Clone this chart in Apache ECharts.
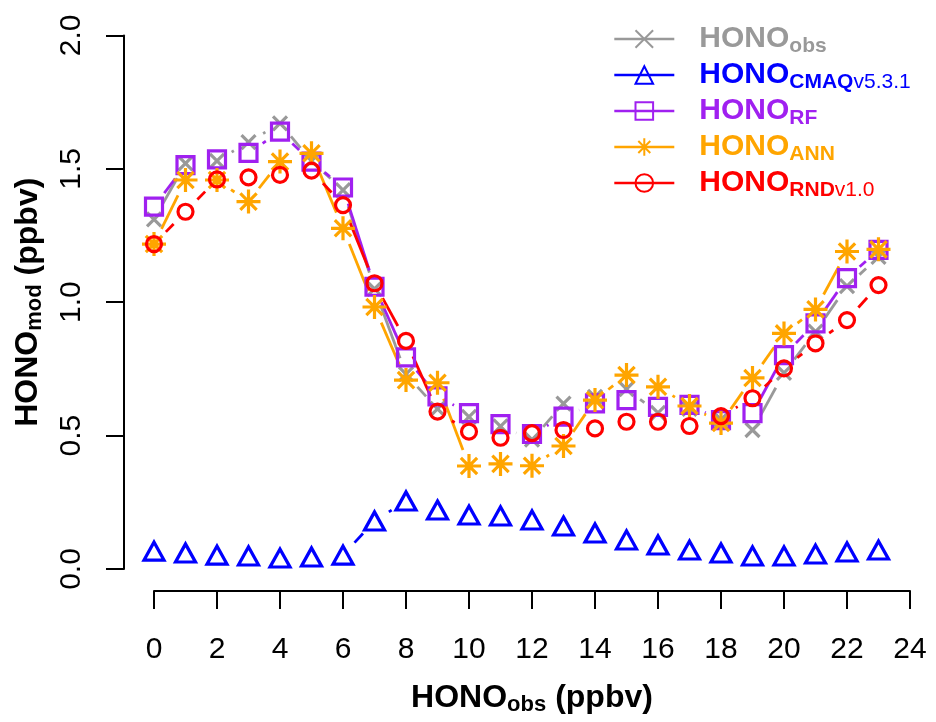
<!DOCTYPE html>
<html><head><meta charset="utf-8">
<script src="https://cdn.jsdelivr.net/npm/echarts@6/dist/echarts.min.js"></script>
<style>html,body{margin:0;padding:0;background:#fff}#c{width:936px;height:722px}</style>
</head><body><div id="c"></div>
<script>
// ---- data ----
const hours = [0,1,2,3,4,5,6,7,8,9,10,11,12,13,14,15,16,17,18,19,20,21,22,23];
const obs  = [1.31,1.52,1.53,1.60,1.67,1.53,1.42,1.05,0.73,0.60,0.57,0.535,0.485,0.62,0.645,0.674,0.585,0.60,0.56,0.521,0.735,0.89,1.06,1.17];
const cmaq = [0.067,0.060,0.052,0.049,0.041,0.045,0.052,0.180,0.255,0.221,0.202,0.199,0.184,0.161,0.135,0.109,0.090,0.071,0.060,0.049,0.049,0.056,0.064,0.071];
const rf   = [1.358,1.514,1.535,1.56,1.639,1.527,1.43,1.058,0.793,0.647,0.584,0.543,0.506,0.571,0.621,0.633,0.608,0.615,0.558,0.584,0.802,0.921,1.09,1.196];
const ann  = [1.218,1.458,1.458,1.377,1.527,1.558,1.277,0.982,0.708,0.698,0.386,0.394,0.387,0.461,0.633,0.727,0.683,0.611,0.547,0.716,0.883,0.973,1.19,1.198];
const rnd  = [1.218,1.339,1.46,1.468,1.477,1.493,1.364,1.071,0.855,0.59,0.515,0.492,0.509,0.521,0.527,0.552,0.552,0.536,0.573,0.64,0.752,0.846,0.933,1.064];
const xTickValues = [0,2,4,6,8,10,12,14,16,18,20,22,24];
const yTickValues = [0,0.5,1,1.5,2];

const names = ['obs','cmaq','rf','ann','rnd'];
const colors = {obs:'#999999', cmaq:'#0000FF', rf:'#A020F0', ann:'#FFA500', rnd:'#FF0000'};
const values = {obs, cmaq, rf, ann, rnd};
const symbols = {
  obs: 'path://M0,0L10,10M10,0L0,10',
  cmaq: 'triangle',
  rf: 'rect',
  ann: 'path://M5,0L5,10M0,5L10,5M1.6,1.6L8.4,8.4M8.4,1.6L1.6,8.4',
  rnd: 'circle'
};
const symSize = {obs:[14,14], cmaq:[20,18], rf:[17,17], ann:[24,24], rnd:[15,15]};
const legendText = {
  obs: '{m_obs|HONO}{s_obs|obs}',
  cmaq: '{m_cmaq|HONO}{s_cmaq|CMAQ}{t_cmaq|v5.3.1}',
  rf: '{m_rf|HONO}{s_rf|RF}',
  ann: '{m_ann|HONO}{s_ann|ANN}',
  rnd: '{m_rnd|HONO}{s_rnd|RND}{t_rnd|v1.0}'
};
const FONT = "'Liberation Sans', Arial, Helvetica, sans-serif";
const GAP = 17;

const rich = {};
names.forEach(n => {
  rich['m_'+n] = {fontFamily:FONT, fontSize:30, fontWeight:'bold', color:colors[n], lineHeight:36, verticalAlign:'middle'};
  rich['s_'+n] = {fontFamily:FONT, fontSize:21, fontWeight:'bold', color:colors[n], lineHeight:14, verticalAlign:'bottom'};
  rich['t_'+n] = {fontFamily:FONT, fontSize:21, fontWeight:'normal', color:colors[n], lineHeight:14, verticalAlign:'bottom'};
});
rich.pad = {width:20};

function gapLine(n){
  const v = values[n];
  return {
    type:'custom', name:n+'_line', coordinateSystem:'cartesian2d', silent:true, z:2, clip:false,
    data: hours.map((h,i)=>[h, v[i]]),
    encode:{x:0,y:1},
    renderItem: function(params, api){
      const i = params.dataIndex;
      if (i >= hours.length-1) return null;
      const p0 = api.coord([hours[i], v[i]]);
      const p1 = api.coord([hours[i+1], v[i+1]]);
      const dx = p1[0]-p0[0], dy = p1[1]-p0[1];
      const d = Math.hypot(dx,dy);
      if (d <= 2*GAP) return null;
      const f = GAP/d;
      return {type:'line', shape:{x1:p0[0]+f*dx, y1:p0[1]+f*dy, x2:p1[0]-f*dx, y2:p1[1]-f*dy},
        style:{stroke:colors[n], lineWidth:2.8, fill:null}};
    }
  };
}
function markers(n){
  const v = values[n];
  return {
    type:'line', name:n, data: hours.map((h,i)=>[h, v[i]]),
    symbol: symbols[n], symbolSize: symSize[n], showSymbol:true, clip:false, z:3,
    lineStyle:{opacity:0, width:0},
    itemStyle:{color:'rgba(0,0,0,0)', borderColor:colors[n], borderWidth:3.2},
    emphasis:{disabled:true}, animation:false
  };
}
const series = [];
names.forEach(n => { series.push(markers(n)); series.push(gapLine(n)); });

const chart = echarts.init(document.getElementById('c'), null, {renderer:'canvas'});
chart.setOption({
  animation:false,
  backgroundColor:'#ffffff',
  textStyle:{fontFamily:FONT},
  grid:{left:154, right:26, top:35.4, bottom:153, containLabel:false, outerBoundsMode:'none'},
  xAxis:{
    type:'value', min:0, max:24, interval:2, offset:22,
    axisLine:{show:true, onZero:false, lineStyle:{color:'#000', width:2}},
    axisTick:{show:true, length:18, lineStyle:{color:'#000', width:2}},
    splitLine:{show:false},
    axisLabel:{fontFamily:FONT, fontSize:30, color:'#000', margin:44,
      formatter: v => xTickValues.includes(v) ? String(v) : ''},
    name:'{m|HONO}{s|obs}{m| (ppbv)}', nameLocation:'middle', nameGap:89,
    nameTextStyle:{rich:{
      m:{fontFamily:FONT, fontSize:32, fontWeight:'bold', color:'#000', lineHeight:36, verticalAlign:'middle'},
      s:{fontFamily:FONT, fontSize:22, fontWeight:'bold', color:'#000', lineHeight:14, verticalAlign:'bottom'}
    }}
  },
  yAxis:{
    type:'value', min:0, max:2, interval:0.5, offset:30,
    axisLine:{show:true, onZero:false, lineStyle:{color:'#000', width:2}},
    axisTick:{show:true, length:18, lineStyle:{color:'#000', width:2}},
    splitLine:{show:false},
    axisLabel:{fontFamily:FONT, fontSize:30, color:'#000', margin:37, rotate:90,
      align:'center', verticalAlign:'bottom',
      formatter: v => yTickValues.includes(v) ? v.toFixed(1) : ''},
    name:'{m|HONO}{s|mod}{m| (ppbv)}', nameLocation:'middle', nameGap:78, nameRotate:90,
    nameTextStyle:{rich:{
      m:{fontFamily:FONT, fontSize:32, fontWeight:'bold', color:'#000', lineHeight:36, verticalAlign:'middle'},
      s:{fontFamily:FONT, fontSize:22, fontWeight:'bold', color:'#000', lineHeight:14, verticalAlign:'bottom'}
    }}
  },
  legend:{
    orient:'vertical', left:608, top:19, itemWidth:60, itemHeight:22, itemGap:3,
    selectedMode:false,
    data: names.map(n => ({name:n, lineStyle:{opacity:1, width:2.6, color:colors[n], type:'solid'}})),
    formatter: n => '{pad|}' + legendText[n],
    textStyle:{rich: rich}
  },
  series: series
});
</script>
</body></html>
